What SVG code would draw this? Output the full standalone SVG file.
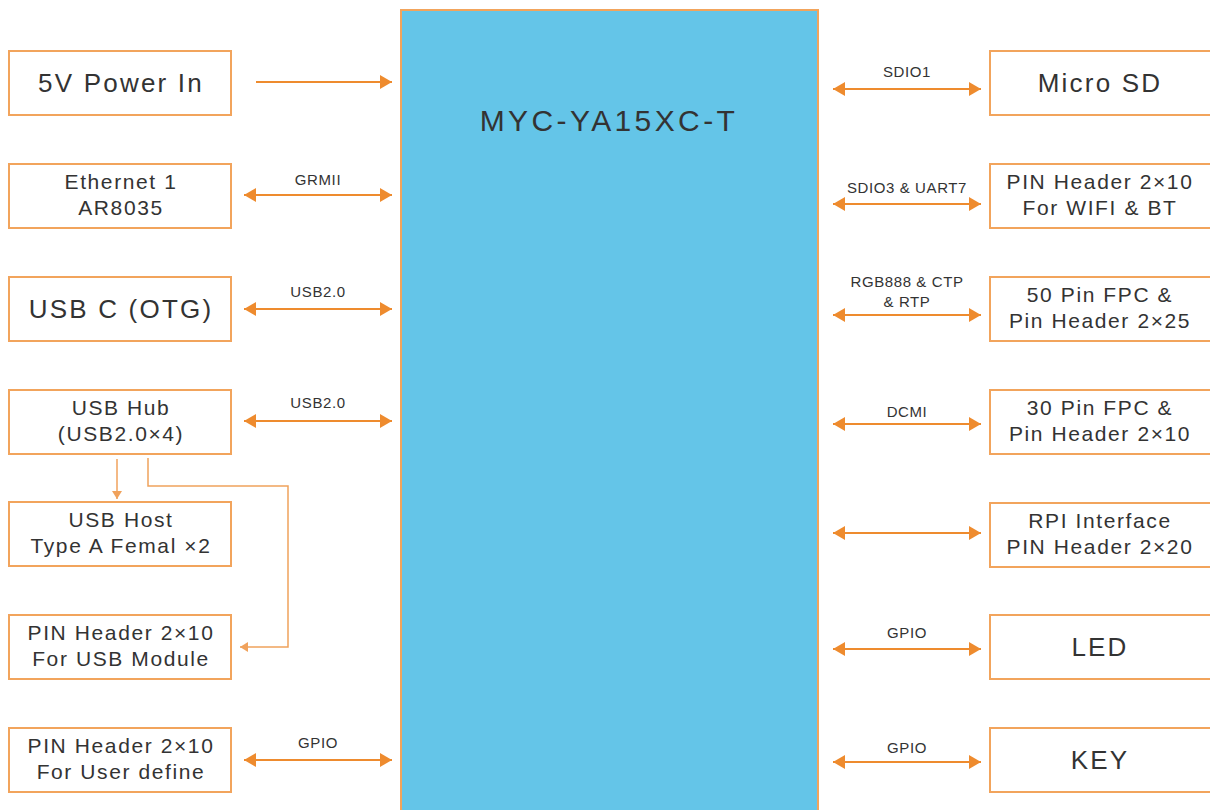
<svg xmlns="http://www.w3.org/2000/svg" width="1210" height="810" viewBox="0 0 1210 810">
<style>
.box{fill:#fff;stroke:#F2A45C;stroke-width:2}
.t1{font-family:"Liberation Sans",Arial,sans-serif;font-size:26px;letter-spacing:2.2px;fill:#333;text-anchor:middle}
.t2{font-family:"Liberation Sans",Arial,sans-serif;font-size:21px;letter-spacing:1.6px;fill:#333;text-anchor:middle}
.lb{font-family:"Liberation Sans",Arial,sans-serif;font-size:15px;letter-spacing:0.6px;fill:#333;text-anchor:middle}
.ar{stroke:#EE8B2E;stroke-width:2;fill:none}
.th{stroke:#F0A25C;stroke-width:1.5;fill:none}
</style>
<defs>
<marker id="ah" markerUnits="userSpaceOnUse" markerWidth="13" markerHeight="14" refX="12" refY="7" orient="auto-start-reverse">
<path d="M0,0 L12,7 L0,14 z" fill="#EE8B2E"/>
</marker>
<marker id="sh" markerUnits="userSpaceOnUse" markerWidth="9" markerHeight="10" refX="8" refY="5" orient="auto">
<path d="M0,0 L8,5 L0,10 z" fill="#F0A25C"/>
</marker>
</defs>
<rect width="1210" height="810" fill="#fff"/>
<g id="main">
<rect x="401" y="10" width="417" height="810" fill="#64C5E8" stroke="#F2A45C" stroke-width="2"/>
<text x="609" y="131" font-family="'Liberation Sans',Arial,sans-serif" font-size="30" letter-spacing="3.4" fill="#333" text-anchor="middle">MYC-YA15XC-T</text>
</g>
<g id="power"><rect class="box" x="9" y="51" width="222" height="64"/><text class="t1" x="121" y="92">5V Power In</text></g>
<g id="eth"><rect class="box" x="9" y="164" width="222" height="64"/><text class="t2" x="121" y="189">Ethernet 1</text><text class="t2" x="121" y="215">AR8035</text></g>
<g id="usbc"><rect class="box" x="9" y="277" width="222" height="64"/><text class="t1" x="121" y="318">USB C (OTG)</text></g>
<g id="hub"><rect class="box" x="9" y="390" width="222" height="64"/><text class="t2" x="121" y="415">USB Hub</text><text class="t2" x="121" y="441">(USB2.0×4)</text></g>
<g id="host"><rect class="box" x="9" y="502" width="222" height="64"/><text class="t2" x="121" y="527">USB Host</text><text class="t2" x="121" y="553">Type A Femal ×2</text></g>
<g id="usbmod"><rect class="box" x="9" y="615" width="222" height="64"/><text class="t2" x="121" y="640">PIN Header 2×10</text><text class="t2" x="121" y="666">For USB Module</text></g>
<g id="user"><rect class="box" x="9" y="728" width="222" height="64"/><text class="t2" x="121" y="753">PIN Header 2×10</text><text class="t2" x="121" y="779">For User define</text></g>
<g id="sd"><rect class="box" x="990" y="51" width="230" height="64"/><text class="t1" x="1100" y="92">Micro SD</text></g>
<g id="wifi"><rect class="box" x="990" y="164" width="230" height="64"/><text class="t2" x="1100" y="189">PIN Header 2×10</text><text class="t2" x="1100" y="215">For WIFI &amp; BT</text></g>
<g id="fpc50"><rect class="box" x="990" y="277" width="230" height="64"/><text class="t2" x="1100" y="302">50 Pin FPC &amp;</text><text class="t2" x="1100" y="328">Pin Header 2×25</text></g>
<g id="fpc30"><rect class="box" x="990" y="390" width="230" height="64"/><text class="t2" x="1100" y="415">30 Pin FPC &amp;</text><text class="t2" x="1100" y="441">Pin Header 2×10</text></g>
<g id="rpi"><rect class="box" x="990" y="503" width="230" height="64"/><text class="t2" x="1100" y="528">RPI Interface</text><text class="t2" x="1100" y="554">PIN Header 2×20</text></g>
<g id="led"><rect class="box" x="990" y="615" width="230" height="64"/><text class="t1" x="1100" y="656">LED</text></g>
<g id="key"><rect class="box" x="990" y="728" width="230" height="64"/><text class="t1" x="1100" y="769">KEY</text></g>
<g id="connectors">
<line class="ar" x1="256" y1="82" x2="392" y2="82" marker-end="url(#ah)"/>
<line class="ar" x1="244" y1="195" x2="392" y2="195" marker-start="url(#ah)" marker-end="url(#ah)"/>
<line class="ar" x1="244" y1="309" x2="392" y2="309" marker-start="url(#ah)" marker-end="url(#ah)"/>
<line class="ar" x1="244" y1="421" x2="392" y2="421" marker-start="url(#ah)" marker-end="url(#ah)"/>
<line class="ar" x1="244" y1="760" x2="392" y2="760" marker-start="url(#ah)" marker-end="url(#ah)"/>
<line class="ar" x1="833" y1="89" x2="981" y2="89" marker-start="url(#ah)" marker-end="url(#ah)"/>
<line class="ar" x1="833" y1="204" x2="981" y2="204" marker-start="url(#ah)" marker-end="url(#ah)"/>
<line class="ar" x1="833" y1="315" x2="981" y2="315" marker-start="url(#ah)" marker-end="url(#ah)"/>
<line class="ar" x1="833" y1="424" x2="981" y2="424" marker-start="url(#ah)" marker-end="url(#ah)"/>
<line class="ar" x1="833" y1="533" x2="981" y2="533" marker-start="url(#ah)" marker-end="url(#ah)"/>
<line class="ar" x1="833" y1="649" x2="981" y2="649" marker-start="url(#ah)" marker-end="url(#ah)"/>
<line class="ar" x1="833" y1="762" x2="981" y2="762" marker-start="url(#ah)" marker-end="url(#ah)"/>
<line class="th" x1="117" y1="459" x2="117" y2="499" marker-end="url(#sh)"/>
<polyline class="th" points="148,458 148,486 288,486 288,647 240,647" marker-end="url(#sh)"/>
<text class="lb" x="318" y="185">GRMII</text>
<text class="lb" x="318" y="297">USB2.0</text>
<text class="lb" x="318" y="408">USB2.0</text>
<text class="lb" x="318" y="748">GPIO</text>
<text class="lb" x="907" y="77">SDIO1</text>
<text class="lb" x="907" y="193">SDIO3 &amp; UART7</text>
<text class="lb" x="907" y="287">RGB888 &amp; CTP</text>
<text class="lb" x="907" y="307">&amp; RTP</text>
<text class="lb" x="907" y="417">DCMI</text>
<text class="lb" x="907" y="638">GPIO</text>
<text class="lb" x="907" y="753">GPIO</text>
</g>
</svg>
